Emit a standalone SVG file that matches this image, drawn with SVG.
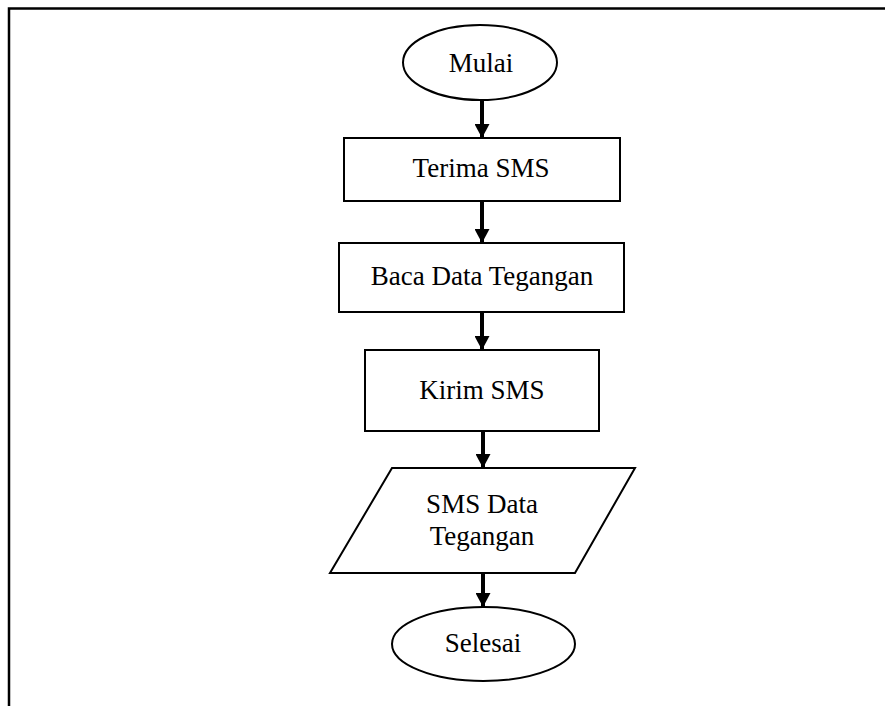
<svg xmlns="http://www.w3.org/2000/svg" width="885" height="706" viewBox="0 0 885 706">
<style>
.s{fill:#fff;stroke:#000;stroke-width:2}
.t{font-family:"Liberation Serif","Times New Roman",serif;font-size:27px;fill:#000;text-anchor:middle}
.c{stroke:#000;stroke-width:4;fill:none}
</style>
<defs>
<marker id="ah" viewBox="0 0 14 15" refX="14" refY="7.5" markerUnits="userSpaceOnUse" markerWidth="14" markerHeight="15" orient="auto">
<path d="M0,0 L14,7.5 L0,15 Z" fill="#000"/>
</marker>
</defs>
<rect width="885" height="706" fill="#fff"/>
<path d="M9,706 V8.5 H885" fill="none" stroke="#000" stroke-width="2.5"/>
<g id="connectors">
<line class="c" x1="482" y1="100" x2="482" y2="138" marker-end="url(#ah)"/>
<line class="c" x1="482" y1="201" x2="482" y2="243" marker-end="url(#ah)"/>
<line class="c" x1="482" y1="312" x2="482" y2="350" marker-end="url(#ah)"/>
<line class="c" x1="483" y1="431" x2="483" y2="468" marker-end="url(#ah)"/>
<line class="c" x1="483" y1="573" x2="483" y2="607" marker-end="url(#ah)"/>
</g>
<g id="mulai">
<ellipse class="s" cx="480" cy="62.5" rx="77" ry="37.5"/>
<text class="t" x="481" y="72">Mulai</text>
</g>
<g id="terima">
<rect class="s" x="344" y="138" width="276" height="63"/>
<text class="t" x="481" y="177">Terima SMS</text>
</g>
<g id="baca">
<rect class="s" x="339" y="243" width="285" height="69"/>
<text class="t" x="482" y="285">Baca Data Tegangan</text>
</g>
<g id="kirim">
<rect class="s" x="365" y="350" width="234" height="81"/>
<text class="t" x="482" y="399">Kirim SMS</text>
</g>
<g id="sms">
<polygon class="s" points="392,468 635,468 575,573 330,573"/>
<text class="t" x="482" y="513">SMS Data</text>
<text class="t" x="482" y="545">Tegangan</text>
</g>
<g id="selesai">
<ellipse class="s" cx="483.5" cy="644" rx="91.5" ry="37"/>
<text class="t" x="483" y="652">Selesai</text>
</g>
</svg>
